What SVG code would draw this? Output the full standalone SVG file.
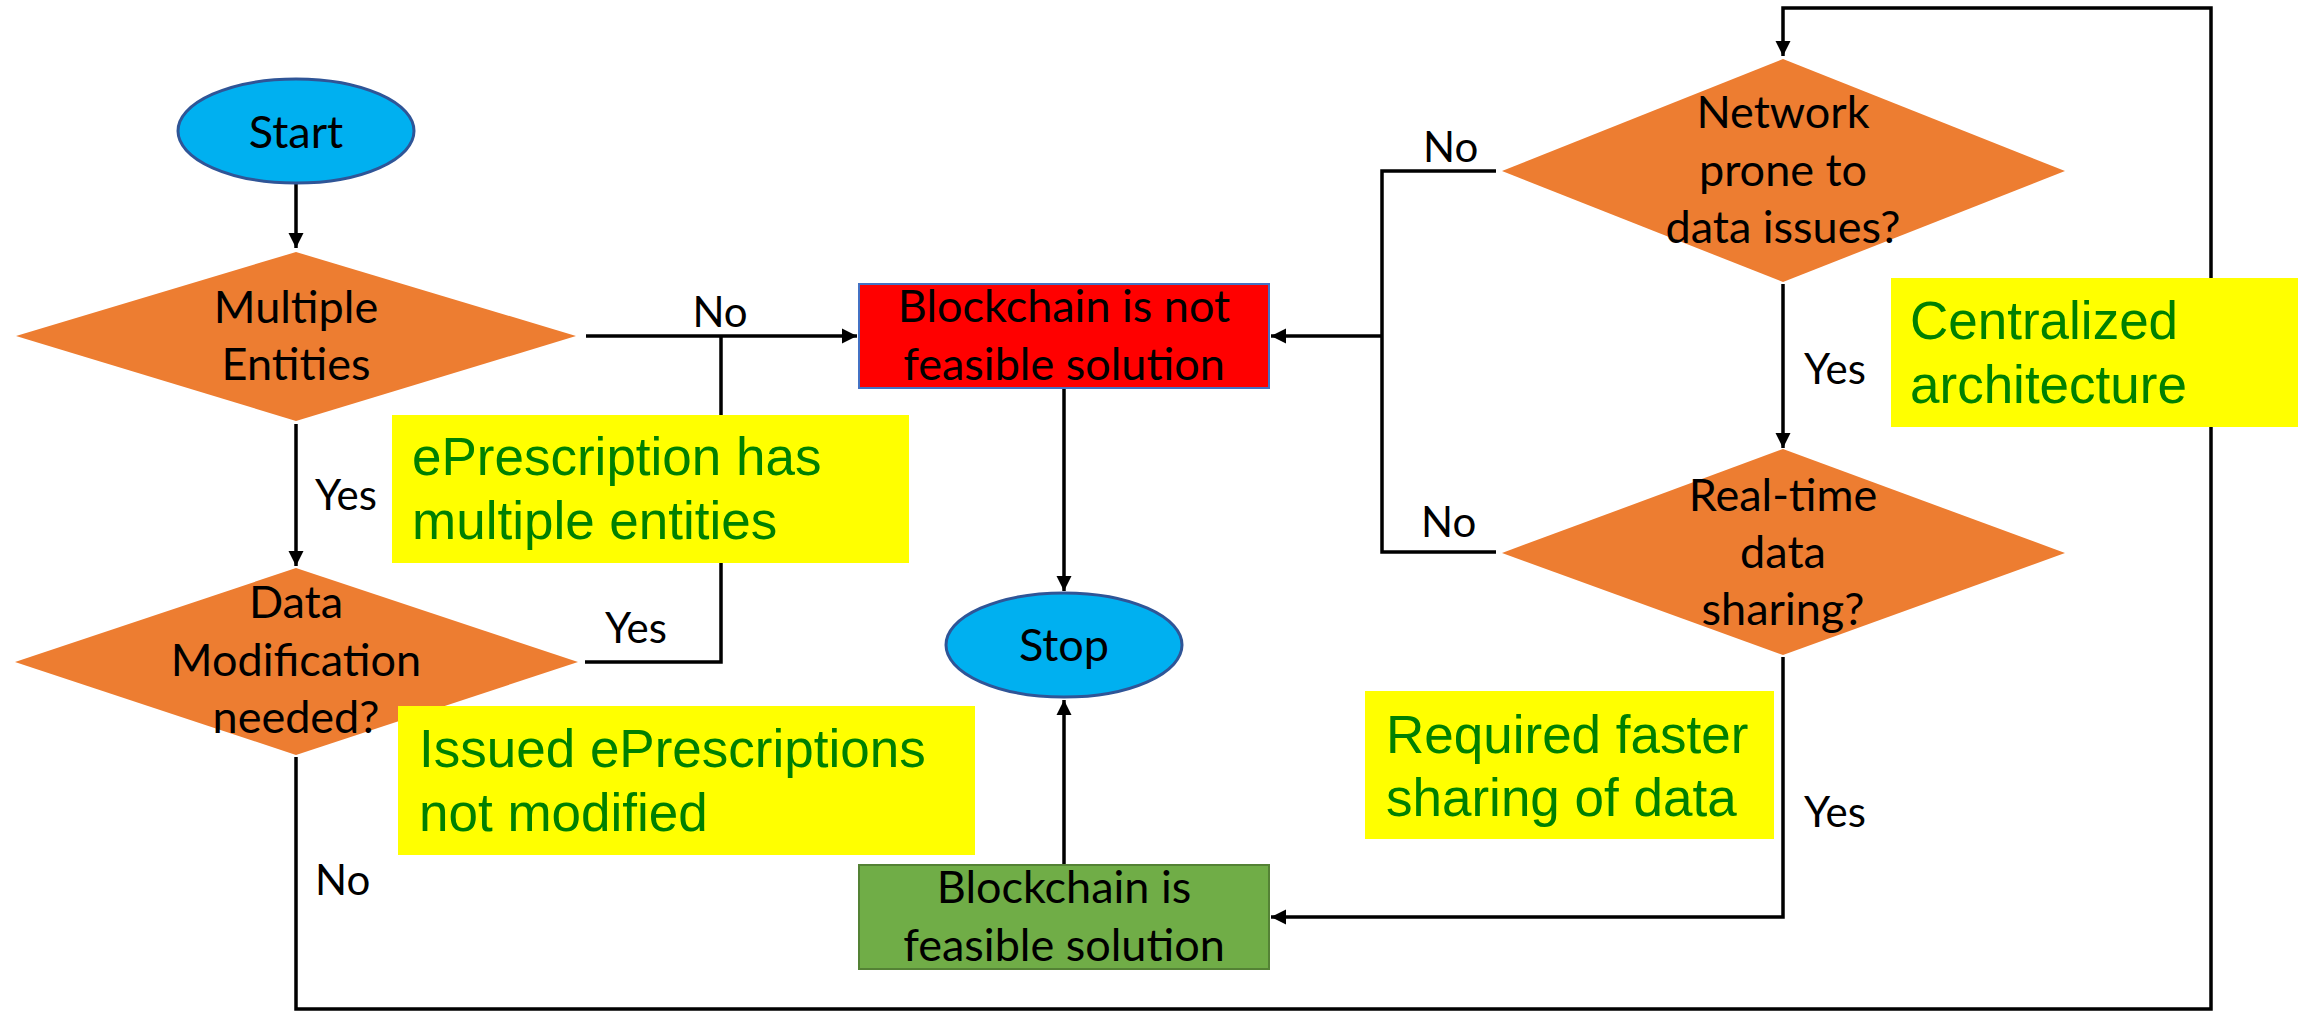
<svg xmlns="http://www.w3.org/2000/svg" width="2313" height="1012" viewBox="0 0 2313 1012">
  <style>
    .node-text { font-family: Lato, "Liberation Sans", sans-serif; font-size: 45px; fill: #000; text-anchor: middle; }
    .label { font-family: Lato, "Liberation Sans", sans-serif; font-size: 42px; fill: #000; }
    .note-text { font-family: "Liberation Sans", Arial, sans-serif; font-size: 53px; fill: #008000; }
    .decision { fill: #ED7D31; }
    .terminal { fill: #00B0F0; stroke: #2F5597; stroke-width: 3; }
    .note { fill: #FFFF00; }
    .wire { fill: none; stroke: #000; stroke-width: 3.5; }
  </style>
  <defs>
    <marker id="arrow" viewBox="0 0 10 10" refX="10" refY="5" markerWidth="4.4" markerHeight="4.4" markerUnits="strokeWidth" orient="auto">
      <path d="M0,0 L10,5 L0,10 z" fill="#000"/>
    </marker>
  </defs>

  <!-- connectors -->
  <g id="connectors">
    <path class="wire" d="M296,184 V248" marker-end="url(#arrow)"/>
    <path class="wire" d="M586,336 H857" marker-end="url(#arrow)"/>
    <path class="wire" d="M585,662 H721 V336"/>
    <path class="wire" d="M296,424 V566" marker-end="url(#arrow)"/>
    <path class="wire" d="M296,757 V1009 H2211 V8 H1783 V56" marker-end="url(#arrow)"/>
    <path class="wire" d="M1496,171 H1382 V552 H1496"/>
    <path class="wire" d="M1382,336 H1271" marker-end="url(#arrow)"/>
    <path class="wire" d="M1783,284 V448" marker-end="url(#arrow)"/>
    <path class="wire" d="M1783,657 V917 H1271" marker-end="url(#arrow)"/>
    <path class="wire" d="M1064,389 V591" marker-end="url(#arrow)"/>
    <path class="wire" d="M1064,864 V700" marker-end="url(#arrow)"/>

    <text class="label" x="720" y="327" text-anchor="middle">No</text>
    <text class="label" x="315" y="510">Yes</text>
    <text class="label" x="605" y="643">Yes</text>
    <text class="label" x="315" y="895">No</text>
    <text class="label" x="1423" y="162">No</text>
    <text class="label" x="1421" y="537">No</text>
    <text class="label" x="1804" y="384">Yes</text>
    <text class="label" x="1804" y="827">Yes</text>
  </g>

  <!-- start terminal -->
  <g id="start">
    <ellipse class="terminal" cx="296" cy="131" rx="118" ry="52"/>
    <text class="node-text" x="296" y="148">Start</text>
  </g>

  <!-- decision: multiple entities -->
  <g id="multiple-entities">
    <polygon class="decision" points="296,252 576,336 296,421 16,336"/>
    <text class="node-text" x="296" y="323">Multiple</text>
    <text class="node-text" x="296" y="380">Entities</text>
  </g>

  <!-- decision: data modification -->
  <g id="data-modification">
    <polygon class="decision" points="296,568 578,662 296,755 15,662"/>
    <text class="node-text" x="296" y="618">Data</text>
    <text class="node-text" x="296" y="676">Modification</text>
    <text class="node-text" x="296" y="733">needed?</text>
  </g>

  <!-- outcome: not feasible -->
  <g id="not-feasible">
    <rect x="859" y="284" width="410" height="104" fill="#FF0000" stroke="#4472C4" stroke-width="2"/>
    <text class="node-text" x="1064" y="322">Blockchain is not</text>
    <text class="node-text" x="1064" y="380">feasible solution</text>
  </g>

  <!-- stop terminal -->
  <g id="stop">
    <ellipse class="terminal" cx="1064" cy="645" rx="118" ry="52"/>
    <text class="node-text" x="1064" y="661">Stop</text>
  </g>

  <!-- outcome: feasible -->
  <g id="feasible">
    <rect x="859" y="865" width="410" height="104" fill="#70AD47" stroke="#548235" stroke-width="2"/>
    <text class="node-text" x="1064" y="903">Blockchain is</text>
    <text class="node-text" x="1064" y="961">feasible solution</text>
  </g>

  <!-- decision: network prone to data issues -->
  <g id="network-issues">
    <polygon class="decision" points="1783,59 2065,171 1783,282 1502,171"/>
    <text class="node-text" x="1783" y="128">Network</text>
    <text class="node-text" x="1783" y="186">prone to</text>
    <text class="node-text" x="1783" y="243">data issues?</text>
  </g>

  <!-- decision: real-time data sharing -->
  <g id="real-time-sharing">
    <polygon class="decision" points="1783,449 2065,553 1783,655 1502,553"/>
    <text class="node-text" x="1783" y="511">Real-time</text>
    <text class="node-text" x="1783" y="568">data</text>
    <text class="node-text" x="1783" y="625">sharing?</text>
  </g>

  <!-- yellow notes -->
  <g id="note-multiple-entities">
    <rect class="note" x="392" y="415" width="517" height="148"/>
    <text class="note-text" x="412" y="475">ePrescription has</text>
    <text class="note-text" x="412" y="539">multiple entities</text>
  </g>
  <g id="note-not-modified">
    <rect class="note" x="398" y="706" width="577" height="149"/>
    <text class="note-text" x="419" y="767">Issued ePrescriptions</text>
    <text class="note-text" x="419" y="831">not modified</text>
  </g>
  <g id="note-centralized">
    <rect class="note" x="1891" y="278" width="407" height="149"/>
    <text class="note-text" x="1910" y="339">Centralized</text>
    <text class="note-text" x="1910" y="403">architecture</text>
  </g>
  <g id="note-faster-sharing">
    <rect class="note" x="1365" y="691" width="409" height="148"/>
    <text class="note-text" x="1386" y="753">Required faster</text>
    <text class="note-text" x="1386" y="816">sharing of data</text>
  </g>
</svg>
